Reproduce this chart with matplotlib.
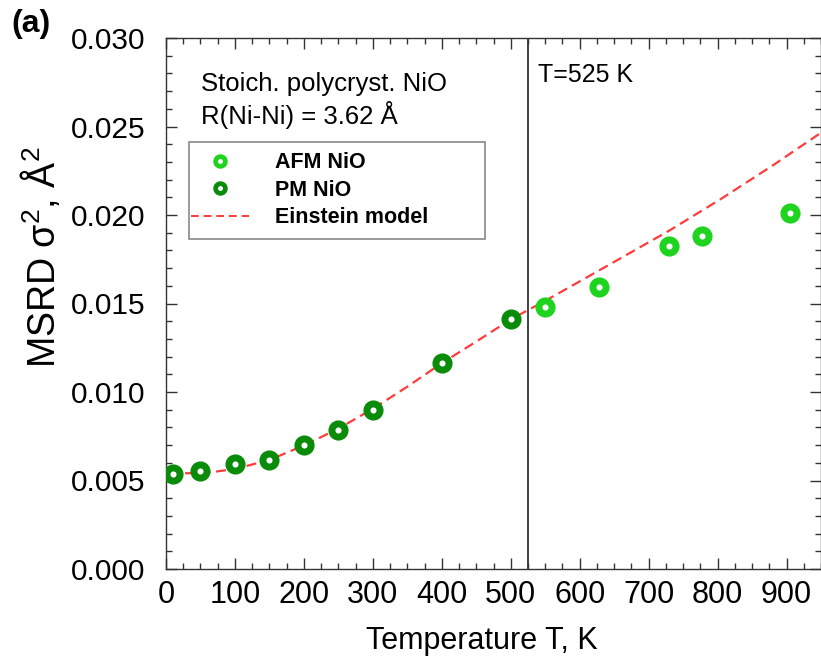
import numpy as np
import matplotlib
matplotlib.use("Agg")
import matplotlib.pyplot as plt
from matplotlib.patches import Rectangle
from matplotlib.lines import Line2D
from matplotlib.ticker import MultipleLocator, FormatStrFormatter

plt.rcParams["font.family"] = ["Liberation Sans", "DejaVu Sans"]
plt.rcParams["mathtext.fontset"] = "custom"
plt.rcParams["mathtext.rm"] = "Liberation Sans"
plt.rcParams["mathtext.it"] = "Liberation Sans:italic"

# ── data ─────────────────────────────────────────────────────────────────────
T_PM    = [10, 50, 100, 150, 200, 250, 300, 400, 500]
msrd_PM = [0.00538, 0.00551, 0.00591, 0.00614, 0.00699, 0.00788, 0.00898, 0.01163, 0.01415]

T_AFM    = [550, 628, 730, 778, 905]
msrd_AFM = [0.01481, 0.01593, 0.01826, 0.01882, 0.02010]

T_model    = [5, 30, 60, 100, 150, 200, 250, 300, 350, 400, 450, 500, 550, 650, 730, 805, 880, 950]
msrd_model = [0.00540, 0.00541, 0.00544, 0.00565, 0.00616, 0.00698, 0.00793, 0.00905,
              0.01030, 0.01163, 0.01285, 0.01410, 0.01515, 0.01735, 0.01912, 0.02091,
              0.02280, 0.02465]

T_NEEL = 525

C_DARK  = "#0a8c0a"
C_LIGHT = "#1ed41e"
C_RED   = "#ff3b3b"

fig = plt.figure(figsize=(8.21, 6.60), dpi=100)
ax = fig.add_axes([166 / 821, 1 - 569 / 660, (821 - 166) / 821, (569 - 38) / 660])

ax.plot(T_model, msrd_model, color=C_RED, lw=1.6, ls=(0, (4.5, 2.5)), zorder=3)
ax.plot(T_PM, msrd_PM, ls="none", marker="o", ms=9.5, mew=5,
        mec=C_DARK, mfc="white", zorder=4)
ax.plot(T_AFM, msrd_AFM, ls="none", marker="o", ms=9.5, mew=5,
        mec=C_LIGHT, mfc="white", zorder=4)
ax.axvline(T_NEEL, color="#333333", lw=1.3, zorder=2)

ax.set_xlim(0, 950)
ax.set_ylim(0, 0.030)
ax.xaxis.set_major_locator(MultipleLocator(100))
ax.xaxis.set_minor_locator(MultipleLocator(25))
ax.yaxis.set_major_locator(MultipleLocator(0.005))
ax.yaxis.set_minor_locator(MultipleLocator(0.001))
ax.yaxis.set_major_formatter(FormatStrFormatter("%.3f"))
ax.tick_params(which="both", direction="in", top=True, right=True, color="#333333")
ax.tick_params(which="major", length=8, width=1)
ax.tick_params(which="minor", length=4, width=1)
ax.tick_params(axis="x", which="major", labelsize=22, pad=8)
ax.tick_params(axis="y", which="major", labelsize=21.5, pad=15)
for s in ax.spines.values():
    s.set_color("#333333")
    s.set_linewidth(1)

ax.set_xlabel("Temperature T, K", fontsize=22)
ax.xaxis.set_label_coords(0.482, -0.108)
ax.set_ylabel("MSRD σ$^2$, Å$^2$", fontsize=27)
ax.yaxis.set_label_coords(-0.158, 0.588)

ax.text(51, 0.0274, "Stoich. polycryst. NiO", fontsize=18.5, va="center")
ax.text(51, 0.02565, "R(Ni-Ni) = 3.62 Å", fontsize=18.5, va="center")
ax.text(539, 0.0279, "T=525 K", fontsize=18, va="center")
fig.text(11 / 821, 1 - 24 / 660, "(a)", fontsize=23, fontweight="bold", va="center")

# legend box drawn by hand, entries via legend without frame
ax.add_patch(Rectangle(((189 - 166) / 655, (569 - 239) / 531), (485 - 189) / 655, 97 / 531,
                       transform=ax.transAxes, fill=False, ec="#888888", lw=1.2, zorder=5))
handles = [
    Line2D([], [], ls="none", marker="o", ms=7, mew=3.4, mec=C_LIGHT, mfc="white"),
    Line2D([], [], ls="none", marker="o", ms=7, mew=3.4, mec=C_DARK, mfc="white"),
    Line2D([], [], color=C_RED, lw=1.4, ls=(0, (4, 2.5))),
]
leg = ax.legend(handles, ["AFM NiO", "PM NiO", "Einstein model"],
                loc="upper left", bbox_to_anchor=((189 - 166) / 655, (569 - 150) / 531),
                frameon=False, prop={"weight": "bold", "size": 15.5},
                handlelength=2.7, handletextpad=1.2, labelspacing=0.3,
                borderpad=0.1, borderaxespad=0)

fig.savefig("out.png", dpi=100)
